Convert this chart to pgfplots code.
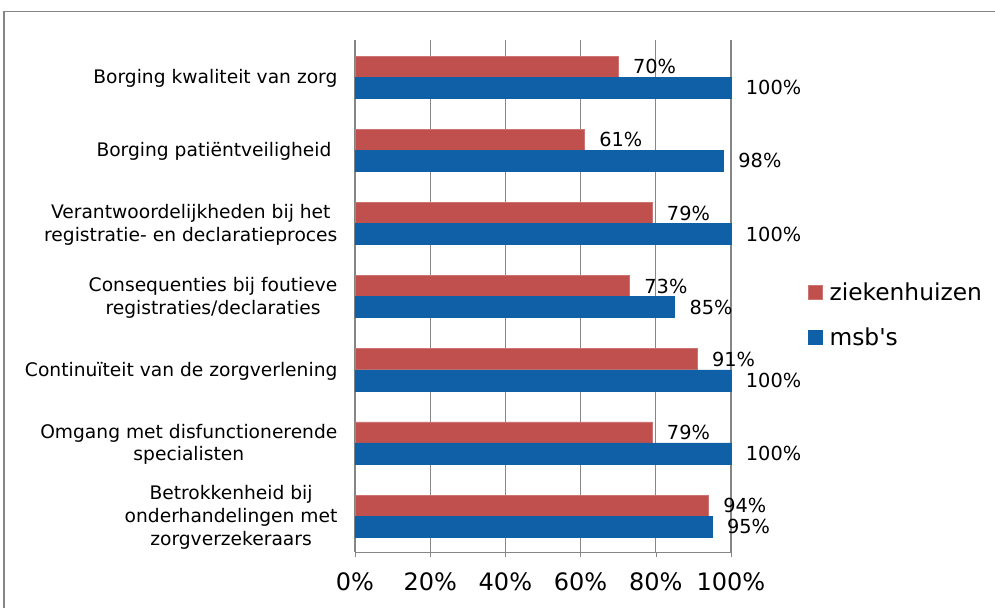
\documentclass[border=0pt]{standalone}
\usepackage{fontspec}
\setmainfont{DejaVu Sans}[Ligatures=TeXOff]
\usepackage{pgfplots}
\pgfplotsset{compat=1.18}
\definecolor{zkred}{HTML}{C0504D}
\definecolor{msbblue}{HTML}{1060A8}
\definecolor{axgray}{HTML}{868686}

\begin{document}
\begin{tikzpicture}
\begin{axis}[
  xbar, scale only axis,
  width=282pt, height=384pt,
  xmin=0, xmax=100, ymin=-0.5, ymax=6.5,
  bar width=15.75pt,
  axis x line*=bottom, axis y line*=left,
  axis line style={axgray},
  xmajorgrids, grid style={axgray, line width=0.8pt},
  xtick={0,20,...,100},
  xticklabel={\pgfmathprintnumber{\tick}\%},
  /pgf/number format/assume math mode=true,
  xticklabel style={font=\fontsize{18}{20}\selectfont, inner sep=0pt, yshift=-11.5pt},
  ytick={0,...,6},
  yticklabels={{Betrokkenheid bij\\onderhandelingen met\\zorgverzekeraars},
    {Omgang met disfunctionerende\\specialisten},
    {Continuïteit van de zorgverlening},
    {Consequenties bij foutieve\\registraties/declaraties},
    {Verantwoordelijkheden bij het\\registratie- en declaratieproces},
    {Borging patiëntveiligheid },
    {Borging kwaliteit van zorg}},
  yticklabel style={font=\fontsize{14}{17}\selectfont, align=center, inner sep=0pt, xshift=-9pt, yshift=-1.5pt},
  minor ytick={-0.5,0.5,...,6.5},
  tick align=outside,
  major tick length=4pt,
  every y tick/.style={draw=none},
  every minor tick/.style={axgray, minor tick length=4.5pt},
  every tick/.style={axgray},
  point meta=x,
  nodes near coords={\pgfmathprintnumber{\pgfplotspointmeta}\%},
  every node near coord/.append style={font=\fontsize{14.5}{16}\selectfont, text=black, inner sep=0pt, anchor=west, xshift=11pt},
  legend style={at={(1.205,0.463)}, anchor=west, draw=none, fill=none, inner sep=0pt,
    font=\fontsize{17.5}{20}\selectfont, row sep=15pt, cells={anchor=west}},
  legend cell align=left,
  legend image code/.code={\fill[#1] (0pt,-5.25pt) rectangle (10.5pt,5.25pt);},
  clip=false,
]
\addplot[fill=zkred, draw=zkred!80!white, bar shift=7.4pt] coordinates {
  (70,6) (61,5) (79,4) (73,3) (91,2) (79,1) (94,0)};
\addplot[fill=msbblue, draw=msbblue, bar shift=-8.4pt] coordinates {
  (100,6) (98,5) (100,4) (85,3) (100,2) (100,1) (95,0)};
\legend{\hspace{3pt}ziekenhuizen, \hspace{3pt}msb's}
\coordinate (BL) at (rel axis cs:-0.9441,-0.1094);
\coordinate (TR) at (rel axis cs:1.7021,1.0781);
\coordinate (FBL) at (rel axis cs:-0.9335,-0.1094);
\coordinate (FTL) at (rel axis cs:-0.9335,1.0547);
\coordinate (FTR) at (rel axis cs:1.7021,1.0547);
\end{axis}
\draw[axgray, line width=0.8pt] (FBL) -- (FTL) -- (FTR);
\pgfresetboundingbox
\useasboundingbox (BL) rectangle (TR);
\end{tikzpicture}
\end{document}
